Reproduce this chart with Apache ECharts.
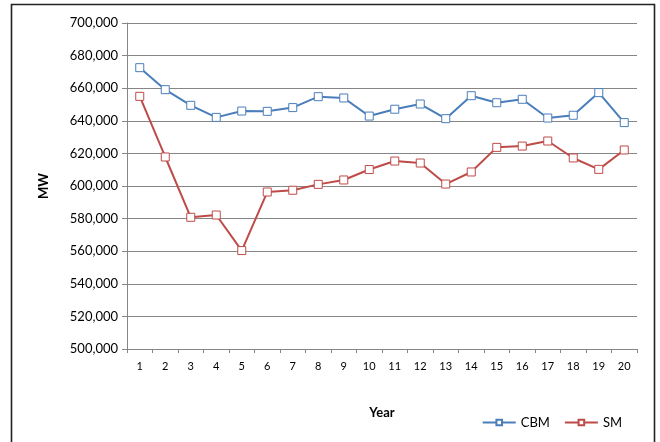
<!DOCTYPE html>
<html>
<head>
<meta charset="utf-8">
<script src="https://cdn.jsdelivr.net/npm/echarts@6/dist/echarts.min.js"></script>
<style>
  html, body { margin: 0; padding: 0; background: #fff; }
  #chart { width: 660px; height: 442px; }
</style>
</head>
<body>
<div id="chart"></div>
<script>
// years on the x axis
var years = ['1','2','3','4','5','6','7','8','9','10','11','12','13','14','15','16','17','18','19','20'];
// CBM, MW
var cbmData = [672600, 659100, 649500, 642100, 646000, 645800, 648100, 654800, 654000, 642900,
               647100, 650300, 641300, 655400, 651100, 653200, 641700, 643400, 657300, 638900];
// SM, MW
var smData = [655000, 617800, 580800, 582200, 560400, 596300, 597400, 601000, 603700, 610100,
              615300, 614100, 601200, 608600, 623700, 624500, 627600, 617200, 610200, 622100];

var FONT = 'Lato, "Liberation Sans", sans-serif';

function fmt(v){
	return String(v).replace(/\B(?=(\d{3})+(?!\d))/g, ',');
}

var chart = echarts.init(document.getElementById('chart'));
var option = {
	animation: false,
	backgroundColor: '#fff',
	textStyle: { fontFamily: FONT },
	graphic: [{
		type: 'rect',
		shape: { x: 11.5, y: 4.5, width: 643, height: 460 },
		style: { fill: 'none', stroke: '#222', lineWidth: 1.6 }
	}],
	grid: { left: 127, right: 23, top: 23, bottom: 93 },
	legend: {
		right: 33,
		top: 411,
		itemWidth: 33,
		itemHeight: 7,
		itemGap: 14,
		textStyle: { fontFamily: FONT, fontSize: 13, color: '#000' },
		data: ['CBM', 'SM']
	},
	xAxis: {
		type: 'category',
		data: years,
		boundaryGap: true,
		name: 'Year',
		nameLocation: 'middle',
		nameGap: 57,
		nameTextStyle: { fontFamily: FONT, fontSize: 13, fontWeight: 'bold', color: '#000' },
		axisLine: { lineStyle: { color: '#868686', width: 1 } },
		axisTick: { show: true, alignWithLabel: false, length: 4, lineStyle: { color: '#868686' } },
		axisLabel: { fontFamily: FONT, fontSize: 11, color: '#000', margin: 12 },
		splitLine: { show: false }
	},
	yAxis: {
		type: 'value',
		min: 500000,
		max: 700000,
		interval: 20000,
		name: 'MW',
		nameLocation: 'middle',
		nameGap: 77,
		nameRotate: 90,
		nameTextStyle: { fontFamily: FONT, fontSize: 13, fontWeight: 'bold', color: '#000' },
		axisLine: { show: true, lineStyle: { color: '#868686', width: 1 } },
		axisTick: { show: true, length: 5, lineStyle: { color: '#868686' } },
		axisLabel: { fontFamily: FONT, fontSize: 13, color: '#000', margin: 9, formatter: fmt },
		splitLine: { lineStyle: { color: '#868686', width: 1 } }
	},
	series: [{
		name: 'CBM',
		type: 'line',
		data: cbmData,
		symbol: 'rect',
		symbolSize: 8,
		color: '#4a7ebb',
		lineStyle: { color: '#4a7ebb', width: 2 },
		itemStyle: { color: '#fff', borderColor: '#4a7ebb', borderWidth: 1 }
	}, {
		name: 'SM',
		type: 'line',
		data: smData,
		symbol: 'rect',
		symbolSize: 8,
		color: '#be4b48',
		lineStyle: { color: '#be4b48', width: 2 },
		itemStyle: { color: '#fff', borderColor: '#be4b48', borderWidth: 1 }
	}]
};
chart.setOption(option);
</script>
</body>
</html>
